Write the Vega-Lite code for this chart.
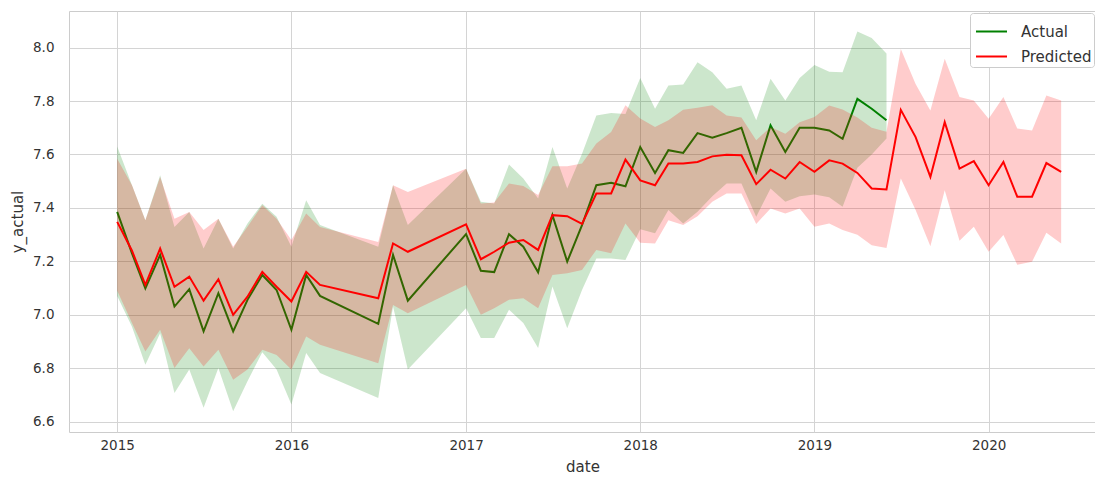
{
  "$schema": "https://vega.github.io/schema/vega-lite/v6.json",
  "width": 1027,
  "height": 421,
  "autosize": {"type": "none"},
  "padding": {"left": 69, "top": 11, "right": 0, "bottom": 47},
  "background": "white",
  "config": {
    "font": "DejaVu Sans",
    "view": {"stroke": "#cccccc", "strokeWidth": 1},
    "axis": {
      "gridColor": "#d4d4d4",
      "gridWidth": 1,
      "domain": false,
      "ticks": false,
      "labelColor": "#333333",
      "labelFont": "DejaVu Sans",
      "labelFontSize": 13.5,
      "titleFont": "DejaVu Sans",
      "titleFontSize": 15,
      "titleFontWeight": "normal",
      "titleColor": "#333333"
    },
    "legend": {
      "labelFont": "DejaVu Sans",
      "labelFontSize": 15,
      "labelColor": "#333333"
    }
  },
  "data": {
    "values": [
      {"date": "2015-01-01", "series": "Actual", "y": 7.385, "lo": 7.07, "hi": 7.63},
      {"date": "2015-02-01", "series": "Actual", "y": 7.23, "lo": 6.955, "hi": 7.485},
      {"date": "2015-03-01", "series": "Actual", "y": 7.099, "lo": 6.813, "hi": 7.354},
      {"date": "2015-04-01", "series": "Actual", "y": 7.224, "lo": 6.931, "hi": 7.522},
      {"date": "2015-05-01", "series": "Actual", "y": 7.031, "lo": 6.707, "hi": 7.329},
      {"date": "2015-06-01", "series": "Actual", "y": 7.096, "lo": 6.795, "hi": 7.385},
      {"date": "2015-07-01", "series": "Actual", "y": 6.938, "lo": 6.652, "hi": 7.248},
      {"date": "2015-08-01", "series": "Actual", "y": 7.081, "lo": 6.801, "hi": 7.36},
      {"date": "2015-09-01", "series": "Actual", "y": 6.938, "lo": 6.639, "hi": 7.248},
      {"date": "2015-10-01", "series": "Actual", "y": 7.056, "lo": 6.751, "hi": 7.342},
      {"date": "2015-11-01", "series": "Actual", "y": 7.149, "lo": 6.86, "hi": 7.416},
      {"date": "2015-12-01", "series": "Actual", "y": 7.093, "lo": 6.795, "hi": 7.367},
      {"date": "2016-01-01", "series": "Actual", "y": 6.944, "lo": 6.664, "hi": 7.255},
      {"date": "2016-02-01", "series": "Actual", "y": 7.149, "lo": 6.857, "hi": 7.429},
      {"date": "2016-03-01", "series": "Actual", "y": 7.071, "lo": 6.782, "hi": 7.336},
      {"date": "2016-07-01", "series": "Actual", "y": 6.966, "lo": 6.689, "hi": 7.255},
      {"date": "2016-08-01", "series": "Actual", "y": 7.224, "lo": 7.031, "hi": 7.485},
      {"date": "2016-09-01", "series": "Actual", "y": 7.053, "lo": 6.795, "hi": 7.336},
      {"date": "2017-01-01", "series": "Actual", "y": 7.302, "lo": 7.025, "hi": 7.547},
      {"date": "2017-02-01", "series": "Actual", "y": 7.165, "lo": 6.913, "hi": 7.423},
      {"date": "2017-03-01", "series": "Actual", "y": 7.16, "lo": 6.913, "hi": 7.417},
      {"date": "2017-04-01", "series": "Actual", "y": 7.302, "lo": 7.019, "hi": 7.563},
      {"date": "2017-05-01", "series": "Actual", "y": 7.255, "lo": 6.969, "hi": 7.51},
      {"date": "2017-06-01", "series": "Actual", "y": 7.159, "lo": 6.876, "hi": 7.435},
      {"date": "2017-07-01", "series": "Actual", "y": 7.373, "lo": 7.106, "hi": 7.628},
      {"date": "2017-08-01", "series": "Actual", "y": 7.199, "lo": 6.95, "hi": 7.473},
      {"date": "2017-09-01", "series": "Actual", "y": 7.336, "lo": 7.093, "hi": 7.603},
      {"date": "2017-10-01", "series": "Actual", "y": 7.485, "lo": 7.211, "hi": 7.746},
      {"date": "2017-11-01", "series": "Actual", "y": 7.494, "lo": 7.211, "hi": 7.755},
      {"date": "2017-12-01", "series": "Actual", "y": 7.481, "lo": 7.205, "hi": 7.752},
      {"date": "2018-01-01", "series": "Actual", "y": 7.628, "lo": 7.32, "hi": 7.886},
      {"date": "2018-02-01", "series": "Actual", "y": 7.531, "lo": 7.305, "hi": 7.771},
      {"date": "2018-03-01", "series": "Actual", "y": 7.616, "lo": 7.392, "hi": 7.858},
      {"date": "2018-04-01", "series": "Actual", "y": 7.606, "lo": 7.342, "hi": 7.862},
      {"date": "2018-05-01", "series": "Actual", "y": 7.68, "lo": 7.386, "hi": 7.945},
      {"date": "2018-06-01", "series": "Actual", "y": 7.663, "lo": 7.444, "hi": 7.908},
      {"date": "2018-07-01", "series": "Actual", "y": 7.68, "lo": 7.491, "hi": 7.846},
      {"date": "2018-08-01", "series": "Actual", "y": 7.7, "lo": 7.491, "hi": 7.858},
      {"date": "2018-09-01", "series": "Actual", "y": 7.535, "lo": 7.367, "hi": 7.728},
      {"date": "2018-10-01", "series": "Actual", "y": 7.709, "lo": 7.473, "hi": 7.883},
      {"date": "2018-11-01", "series": "Actual", "y": 7.609, "lo": 7.423, "hi": 7.802},
      {"date": "2018-12-01", "series": "Actual", "y": 7.7, "lo": 7.444, "hi": 7.886},
      {"date": "2019-01-01", "series": "Actual", "y": 7.7, "lo": 7.45, "hi": 7.935},
      {"date": "2019-02-01", "series": "Actual", "y": 7.69, "lo": 7.44, "hi": 7.91},
      {"date": "2019-03-01", "series": "Actual", "y": 7.659, "lo": 7.404, "hi": 7.908},
      {"date": "2019-04-01", "series": "Actual", "y": 7.808, "lo": 7.55, "hi": 8.06},
      {"date": "2019-05-01", "series": "Actual", "y": 7.771, "lo": 7.6, "hi": 8.036},
      {"date": "2019-06-01", "series": "Actual", "y": 7.728, "lo": 7.66, "hi": 7.978},
      {"date": "2015-01-01", "series": "Predicted", "y": 7.348, "lo": 7.09, "hi": 7.584},
      {"date": "2015-02-01", "series": "Predicted", "y": 7.24, "lo": 6.969, "hi": 7.485},
      {"date": "2015-03-01", "series": "Predicted", "y": 7.112, "lo": 6.863, "hi": 7.354},
      {"date": "2015-04-01", "series": "Predicted", "y": 7.248, "lo": 6.944, "hi": 7.516},
      {"date": "2015-05-01", "series": "Predicted", "y": 7.105, "lo": 6.801, "hi": 7.36},
      {"date": "2015-06-01", "series": "Predicted", "y": 7.143, "lo": 6.875, "hi": 7.385},
      {"date": "2015-07-01", "series": "Predicted", "y": 7.053, "lo": 6.807, "hi": 7.317},
      {"date": "2015-08-01", "series": "Predicted", "y": 7.133, "lo": 6.869, "hi": 7.36},
      {"date": "2015-09-01", "series": "Predicted", "y": 7.0, "lo": 6.757, "hi": 7.255},
      {"date": "2015-10-01", "series": "Predicted", "y": 7.068, "lo": 6.795, "hi": 7.33},
      {"date": "2015-11-01", "series": "Predicted", "y": 7.161, "lo": 6.869, "hi": 7.41},
      {"date": "2015-12-01", "series": "Predicted", "y": 7.105, "lo": 6.85, "hi": 7.36},
      {"date": "2016-01-01", "series": "Predicted", "y": 7.05, "lo": 6.795, "hi": 7.28},
      {"date": "2016-02-01", "series": "Predicted", "y": 7.161, "lo": 6.919, "hi": 7.379},
      {"date": "2016-03-01", "series": "Predicted", "y": 7.112, "lo": 6.888, "hi": 7.329},
      {"date": "2016-07-01", "series": "Predicted", "y": 7.062, "lo": 6.819, "hi": 7.273},
      {"date": "2016-08-01", "series": "Predicted", "y": 7.267, "lo": 7.037, "hi": 7.485},
      {"date": "2016-09-01", "series": "Predicted", "y": 7.236, "lo": 7.006, "hi": 7.46},
      {"date": "2017-01-01", "series": "Predicted", "y": 7.339, "lo": 7.112, "hi": 7.547},
      {"date": "2017-02-01", "series": "Predicted", "y": 7.208, "lo": 7.0, "hi": 7.417},
      {"date": "2017-03-01", "series": "Predicted", "y": 7.236, "lo": 7.025, "hi": 7.42},
      {"date": "2017-04-01", "series": "Predicted", "y": 7.27, "lo": 7.056, "hi": 7.491},
      {"date": "2017-05-01", "series": "Predicted", "y": 7.28, "lo": 7.062, "hi": 7.482},
      {"date": "2017-06-01", "series": "Predicted", "y": 7.243, "lo": 7.025, "hi": 7.448},
      {"date": "2017-07-01", "series": "Predicted", "y": 7.373, "lo": 7.149, "hi": 7.556},
      {"date": "2017-08-01", "series": "Predicted", "y": 7.369, "lo": 7.156, "hi": 7.556},
      {"date": "2017-09-01", "series": "Predicted", "y": 7.34, "lo": 7.168, "hi": 7.566},
      {"date": "2017-10-01", "series": "Predicted", "y": 7.454, "lo": 7.243, "hi": 7.641},
      {"date": "2017-11-01", "series": "Predicted", "y": 7.454, "lo": 7.23, "hi": 7.684},
      {"date": "2017-12-01", "series": "Predicted", "y": 7.581, "lo": 7.342, "hi": 7.784},
      {"date": "2018-01-01", "series": "Predicted", "y": 7.503, "lo": 7.27, "hi": 7.735},
      {"date": "2018-02-01", "series": "Predicted", "y": 7.485, "lo": 7.267, "hi": 7.703},
      {"date": "2018-03-01", "series": "Predicted", "y": 7.566, "lo": 7.354, "hi": 7.728},
      {"date": "2018-04-01", "series": "Predicted", "y": 7.566, "lo": 7.336, "hi": 7.767},
      {"date": "2018-05-01", "series": "Predicted", "y": 7.572, "lo": 7.369, "hi": 7.775},
      {"date": "2018-06-01", "series": "Predicted", "y": 7.593, "lo": 7.423, "hi": 7.784},
      {"date": "2018-07-01", "series": "Predicted", "y": 7.599, "lo": 7.454, "hi": 7.746},
      {"date": "2018-08-01", "series": "Predicted", "y": 7.597, "lo": 7.454, "hi": 7.738},
      {"date": "2018-09-01", "series": "Predicted", "y": 7.489, "lo": 7.34, "hi": 7.653},
      {"date": "2018-10-01", "series": "Predicted", "y": 7.543, "lo": 7.398, "hi": 7.703},
      {"date": "2018-11-01", "series": "Predicted", "y": 7.51, "lo": 7.379, "hi": 7.678},
      {"date": "2018-12-01", "series": "Predicted", "y": 7.572, "lo": 7.398, "hi": 7.721},
      {"date": "2019-01-01", "series": "Predicted", "y": 7.535, "lo": 7.33, "hi": 7.74},
      {"date": "2019-02-01", "series": "Predicted", "y": 7.578, "lo": 7.342, "hi": 7.783},
      {"date": "2019-03-01", "series": "Predicted", "y": 7.566, "lo": 7.317, "hi": 7.768},
      {"date": "2019-04-01", "series": "Predicted", "y": 7.531, "lo": 7.3, "hi": 7.738},
      {"date": "2019-05-01", "series": "Predicted", "y": 7.473, "lo": 7.26, "hi": 7.7},
      {"date": "2019-06-01", "series": "Predicted", "y": 7.469, "lo": 7.25, "hi": 7.685},
      {"date": "2019-07-01", "series": "Predicted", "y": 7.767, "lo": 7.51, "hi": 7.995},
      {"date": "2019-08-01", "series": "Predicted", "y": 7.665, "lo": 7.392, "hi": 7.864},
      {"date": "2019-09-01", "series": "Predicted", "y": 7.516, "lo": 7.257, "hi": 7.765},
      {"date": "2019-10-01", "series": "Predicted", "y": 7.721, "lo": 7.466, "hi": 7.958},
      {"date": "2019-11-01", "series": "Predicted", "y": 7.547, "lo": 7.277, "hi": 7.815},
      {"date": "2019-12-01", "series": "Predicted", "y": 7.575, "lo": 7.33, "hi": 7.802},
      {"date": "2020-01-01", "series": "Predicted", "y": 7.485, "lo": 7.236, "hi": 7.734},
      {"date": "2020-02-01", "series": "Predicted", "y": 7.572, "lo": 7.299, "hi": 7.815},
      {"date": "2020-03-01", "series": "Predicted", "y": 7.442, "lo": 7.187, "hi": 7.697},
      {"date": "2020-04-01", "series": "Predicted", "y": 7.442, "lo": 7.199, "hi": 7.69},
      {"date": "2020-05-01", "series": "Predicted", "y": 7.568, "lo": 7.307, "hi": 7.821},
      {"date": "2020-06-01", "series": "Predicted", "y": 7.535, "lo": 7.267, "hi": 7.802}
    ]
  },
  "encoding": {
    "x": {
      "field": "date",
      "type": "temporal",
      "title": "date",
      "scale": {
        "type": "utc",
        "domain": [
          {"year": 2014, "month": 9, "date": 22, "utc": true},
          {"year": 2020, "month": 8, "date": 13, "utc": true}
        ]
      },
      "axis": {
        "values": [
          {"year": 2015, "month": 1, "date": 1, "utc": true},
          {"year": 2016, "month": 1, "date": 1, "utc": true},
          {"year": 2017, "month": 1, "date": 1, "utc": true},
          {"year": 2018, "month": 1, "date": 1, "utc": true},
          {"year": 2019, "month": 1, "date": 1, "utc": true},
          {"year": 2020, "month": 1, "date": 1, "utc": true}
        ],
        "format": "%Y",
        "labelPadding": 6,
        "titlePadding": 8
      }
    }
  },
  "layer": [
    {
      "transform": [{"filter": "datum.series === 'Actual'"}],
      "mark": {"type": "area", "color": "green", "opacity": 0.2, "clip": true},
      "encoding": {
        "y": {
          "field": "lo",
          "type": "quantitative",
          "title": "y_actual",
          "scale": {"domain": [6.5615, 8.137], "nice": false, "zero": false},
          "axis": {
            "values": [6.6, 6.8, 7.0, 7.2, 7.4, 7.6, 7.8, 8.0],
            "format": ".1f",
            "labelPadding": 15,
            "titlePadding": 7
          }
        },
        "y2": {"field": "hi"}
      }
    },
    {
      "transform": [{"filter": "datum.series === 'Actual'"}],
      "mark": {"type": "line", "strokeWidth": 2, "clip": true},
      "encoding": {
        "y": {"field": "y", "type": "quantitative"},
        "stroke": {
          "field": "series",
          "type": "nominal",
          "scale": {"domain": ["Actual", "Predicted"], "range": ["green", "red"]},
          "legend": {
            "title": null,
            "orient": "none",
            "legendX": 901,
            "legendY": 2,
            "symbolType": "stroke",
            "symbolSize": 961,
            "symbolStrokeWidth": 2,
            "symbolOffset": 3,
            "labelOffset": 13,
            "rowPadding": -11,
            "padding": 2,
            "strokeColor": "#cccccc",
            "fillColor": "white",
            "cornerRadius": 3
          }
        }
      }
    },
    {
      "transform": [{"filter": "datum.series === 'Predicted'"}],
      "mark": {"type": "area", "color": "red", "opacity": 0.2, "clip": true},
      "encoding": {
        "y": {"field": "lo", "type": "quantitative"},
        "y2": {"field": "hi"}
      }
    },
    {
      "transform": [{"filter": "datum.series === 'Predicted'"}],
      "mark": {"type": "line", "strokeWidth": 2, "clip": true},
      "encoding": {
        "y": {"field": "y", "type": "quantitative"},
        "stroke": {"field": "series", "type": "nominal"}
      }
    }
  ]
}
